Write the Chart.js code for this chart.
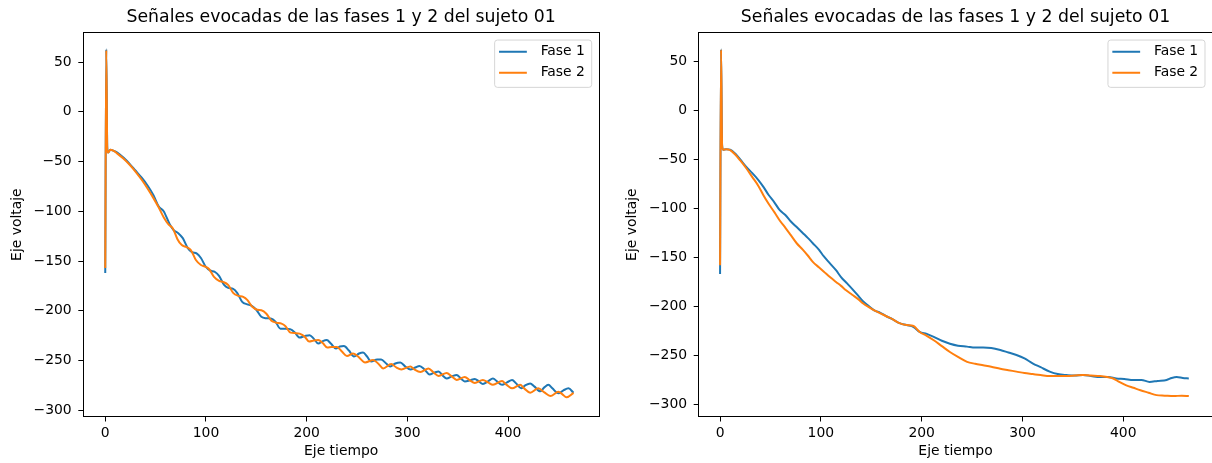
<!DOCTYPE html>
<html>
<head>
<meta charset="utf-8">
<title>Señales evocadas</title>
<script src="https://cdn.jsdelivr.net/npm/chart.js@4.4.1/dist/chart.umd.min.js"></script>
<style>
    html, body { margin: 0; padding: 0; background: #ffffff; overflow: hidden; }
    .panel { position: absolute; top: 0; }
</style>
</head>
<body>
<div class="panel" style="left:0px"><canvas id="graficaIzq" width="606" height="463"></canvas></div>
<div class="panel" style="left:606px"><canvas id="graficaDer" width="612" height="463"></canvas></div>
<script>
// textos
var titulo = 'Señales evocadas de las fases 1 y 2 del sujeto 01';
var etiquetaX = 'Eje tiempo';
var etiquetaY = 'Eje voltaje';
var nombresFases = ['Fase 1', 'Fase 2'];
var coloresFases = ['#1f77b4', '#ff7f0e'];

// marcas de los ejes
var ticksX = [0, 100, 200, 300, 400];
var ticksY = [-300, -250, -200, -150, -100, -50, 0, 50];

// grafica izquierda, fase 1
var izqTiempo1 = [0,1,2,3,5,8,12,18,24,30,36,42,48,53,58,64,68,72.5,77,82,
    86,91,95,100,104,109,113,118,122,127,131,136,141,145.5,150,155,160,165,169,174,
    179,183.5,188,193,198,203,207,211.5,216,220,224,229,233,237,242,247,252,256,260,264,
    270,274,279,283,288,293,298,303,308,312,317,322,327,331,335,339,344,349,353,357,
    362,367,371,375,380,385,389,394,399,404,408,413,417,422,426,432,436,440,444,450,455,460,465];
var izqVoltaje1 = [-162,63,-36,-41,-38,-39,-41,-46,-52,-59,-66,-74,-84,-95,-100,-113,-119,-122,-127,-137,
    -141,-142.5,-147,-156,-159.5,-161,-165,-174,-177,-178,-182,-191,-193.5,-195,-199,-206,-207.5,-208,-211,-218,
    -218,-218.5,-221.5,-227,-225.5,-224.5,-228,-233,-230.5,-229.5,-233,-238,-236,-235.5,-240,-246,-243,-242,-246,-251,
    -249,-249,-253,-256,-253,-252,-256,-259,-257,-255.5,-259,-264,-262,-261,-265,-268,-266,-264.5,-268,-271,
    -270,-268.5,-271,-273.5,-271,-268,-271,-274.5,-272,-269.5,-273,-278,-275,-273,-276,-281,-277,-274.5,-278,-283,-280,-278,-282.5];

// grafica izquierda, fase 2
var izqTiempo2 = [0,1,2,3,5,8,12,18,24,30,36,42,48,53,58,62.6,67,71.7,76,80.8,
    85,90,95,99,103,108,113,117,122,127,132,137,141,146,151,155,160,165,170,175,
    179,184,189,193,198,202.5,207,211.5,216,220.5,225,230,235,240,246,251,258,266,271,276,
    284,289,294,303,307,313,321,326,331,339,344,349,357,362,367,375,380,385,394,398,
    404,412,416,422,430,436,442,450,454,458,465];
var izqVoltaje2 = [-157,62,-38,-41,-38,-39,-42,-47,-53,-60,-68,-77,-87,-96,-106,-113,-117,-128,-134,-136,
    -139,-149,-154,-155.5,-158,-166,-170,-171,-174,-182,-185,-186,-189,-196,-199,-199.5,-203,-210,-212,-213,
    -215.5,-222,-222.5,-223,-226,-231,-230,-229.5,-232.5,-237,-236.5,-236.5,-241,-245.5,-243,-246,-252,-249.5,-253,-258,
    -253.5,-257,-259,-256,-259,-261.5,-258,-262,-265.5,-262.5,-266,-269.5,-266.5,-270,-272.5,-269.5,-272,-274.5,-270.5,-274,
    -278,-274.5,-278,-282.5,-278,-282,-285.7,-281.5,-284,-287,-282.5];

// grafica derecha, fase 1
var derTiempo1 = [0,1,2,3,6,10,15,20,26,32,38,43,48,54,59,65,70,76,82,87,92,98,103,109,115,120,126,131,137,142,
    148,153,159,165,171,178,185,192,198,205,212,220,228,236,245,253,261,269,278,286,294,302,310,318,327,335,344,352,360,368,
    377,385,393,401,410,418,426,434,443,448,453,459,465];
var derVoltaje1 = [-167,62.5,-35,-40,-39.5,-40,-44,-50,-57.5,-64,-71,-78,-86,-94,-101.5,-107,-113,-119,-125,-130,-135.5,-142,-149,-156,-163,-170,-176.5,-182,-189,-195,
    -200,-204,-206.5,-210,-213,-217,-219,-221,-226,-228,-231,-235,-238,-240,-241,-242,-242,-242.5,-244.5,-247,-249.5,-253,-258,-262,-266.5,-269,-270,-270.5,-270,-271,
    -272,-272,-273.5,-274,-275,-275,-277,-276,-275,-273,-272,-273,-273.5];

// grafica derecha, fase 2
var derTiempo2 = [0,1,2,3,6,10,15,20,26,32,38,43,48,54,59,65,70,76,82,87,92,98,103,109,115,120,125,131,137,142,
    148,153,159,165,171,178,185,192,198,205,212,220,228,236,245,253,261,269,278,286,294,302,310,318,327,335,344,352,360,368,
    377,384,390,396,403,410,417,425,433,441,450,458,465];
var derVoltaje2 = [-158,62,-36,-40,-39.5,-40.5,-45,-51,-59,-68,-77,-86.5,-95,-104,-112,-120,-127,-135.5,-142,-148,-154.5,-160,-164.5,-170,-175,-179,-183.5,-188,-192.5,-197,
    -201,-204,-207,-210,-213,-217,-219,-220,-226,-230,-234.5,-240.5,-246.5,-251.5,-256.5,-258.5,-260,-261.5,-263.5,-265,-266.5,-268,-269,-270,-271,-271,-271,-270.5,-270,-270.5,
    -271,-272,-273.5,-277,-280.5,-283,-285.5,-288,-290.5,-291,-291.5,-291,-291.5];

Chart.defaults.font.family = "'DejaVu Sans', sans-serif";
Chart.defaults.color = '#000000';

function unirPuntos(tiempos, voltajes) {
    return tiempos.map(function (t, i) { return { x: t, y: voltajes[i] }; });
}

function conMenos(v) {
    return v < 0 ? '\u2212' + Math.abs(v) : String(v);
}

// marco negro alrededor del area de datos
var marco = {
    id: 'marco',
    afterDatasetsDraw: function (chart) {
        var ctx = chart.ctx, a = chart.chartArea;
        var l = Math.floor(a.left), t = Math.floor(a.top), r = Math.floor(a.right), b = Math.floor(a.bottom);
        ctx.save();
        ctx.strokeStyle = '#000000';
        ctx.lineWidth = 1;
        ctx.strokeRect(l + 0.5, t + 0.5, r - l, b - t);
        ctx.restore();
    }
};

// leyenda en la esquina superior derecha, dentro del area
var leyenda = {
    id: 'leyenda',
    afterDatasetsDraw: function (chart) {
        var ctx = chart.ctx, a = chart.chartArea;
        var sets = chart.data.datasets;
        ctx.save();
        ctx.font = "13.9px 'DejaVu Sans'";
        var anchoTexto = 0;
        sets.forEach(function (d) { anchoTexto = Math.max(anchoTexto, ctx.measureText(d.label).width); });
        var w = 46 + anchoTexto + 6.8;
        var h = 47.3;
        var x = a.right - 7.3 - w;
        var y = a.top + 7.3;
        ctx.beginPath();
        ctx.roundRect(x, y, w, h, 2.8);
        ctx.fillStyle = 'rgba(255,255,255,0.8)';
        ctx.fill();
        ctx.strokeStyle = 'rgba(204,204,204,0.8)';
        ctx.lineWidth = 1;
        ctx.stroke();
        sets.forEach(function (d, i) {
            var cy = y + 11.7 + i * 21;
            ctx.strokeStyle = d.borderColor;
            ctx.lineWidth = 2;
            ctx.beginPath();
            ctx.moveTo(x + 4.4, cy);
            ctx.lineTo(x + 32.2, cy);
            ctx.stroke();
            ctx.fillStyle = '#000000';
            ctx.textBaseline = 'middle';
            ctx.textAlign = 'left';
            ctx.fillText(d.label, x + 46, cy);
        });
        ctx.restore();
    }
};

function crearGrafica(id, fase1, fase2, limites) {
    var ctx = document.getElementById(id);
    return new Chart(ctx, {
        type: 'line',
        data: {
            datasets: [{
                label: nombresFases[0],
                data: fase1,
                borderColor: coloresFases[0],
                order: 1
            }, {
                label: nombresFases[1],
                data: fase2,
                borderColor: coloresFases[1],
                order: 0
            }]
        },
        options: {
            responsive: false,
            animation: false,
            devicePixelRatio: 1,
            layout: { padding: { left: 0, right: limites.margenDer, top: 0, bottom: 0 } },
            elements: {
                point: { radius: 0 },
                line: { borderWidth: 2, cubicInterpolationMode: 'monotone', fill: false }
            },
            plugins: {
                legend: { display: false },
                tooltip: { enabled: false },
                title: {
                    display: true,
                    text: titulo,
                    fullSize: false,
                    color: '#000000',
                    font: { size: 17.3, weight: 'normal' },
                    padding: { top: 7.2, bottom: 4.8 }
                }
            },
            scales: {
                x: {
                    type: 'linear',
                    min: limites.xMin,
                    max: limites.xMax,
                    afterBuildTicks: function (s) { s.ticks = ticksX.map(function (v) { return { value: v }; }); },
                    afterFit: function (s) { s.height = 46.5; },
                    ticks: { font: { size: 13.9 }, padding: 4, maxRotation: 0, callback: conMenos },
                    grid: { drawOnChartArea: false, tickLength: 5, tickColor: '#000000', tickWidth: 1 },
                    border: { display: false },
                    title: { display: true, text: etiquetaX, font: { size: 13.9 }, padding: { top: 0, bottom: 3.6 } }
                },
                y: {
                    type: 'linear',
                    min: limites.yMin,
                    max: limites.yMax,
                    afterBuildTicks: function (s) { s.ticks = ticksY.map(function (v) { return { value: v }; }); },
                    afterFit: function (s) { s.width = limites.anchoY; },
                    ticks: { font: { size: 13.9 }, padding: 6.6, callback: conMenos },
                    grid: { drawOnChartArea: false, tickLength: 5, tickColor: '#000000', tickWidth: 1 },
                    border: { display: false },
                    title: { display: true, text: etiquetaY, font: { size: 13.9 }, padding: { top: limites.sepTituloY, bottom: 0 } }
                }
            }
        },
        plugins: [marco, leyenda]
    });
}

crearGrafica('graficaIzq', unirPuntos(izqTiempo1, izqVoltaje1), unirPuntos(izqTiempo2, izqVoltaje2), {
    xMin: -21.8, xMax: 490.3, yMin: -306.3, yMax: 79.5, anchoY: 83.3, margenDer: 7, sepTituloY: 9.2
});
crearGrafica('graficaDer', unirPuntos(derTiempo1, derVoltaje1), unirPuntos(derTiempo2, derVoltaje2), {
    xMin: -21.2, xMax: 488.3, yMin: -312.3, yMax: 79.3, anchoY: 92.7, margenDer: 5.7, sepTituloY: 18.5
});
</script>
</body>
</html>
